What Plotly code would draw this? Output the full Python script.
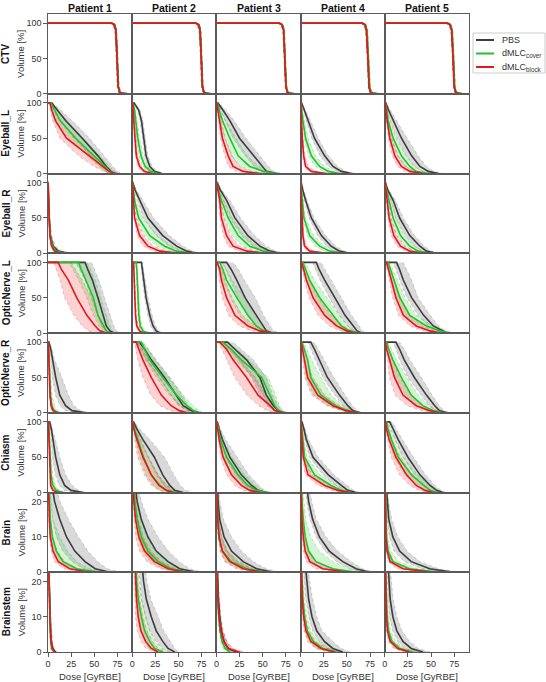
import plotly.graph_objects as go
from plotly.subplots import make_subplots

# ---------------- data (doses [GyRBE] at given volume levels) ----------------
PATIENTS = ["Patient 1", "Patient 2", "Patient 3", "Patient 4", "Patient 5"]
STRUCTURES = ["CTV", "Eyeball_L", "Eyeball_R", "OpticNerve_L", "OpticNerve_R", "Chiasm", "Brain", "Brainstem"]
PLAN_NAMES = ["PBS", "dMLC<sub>cover</sub>", "dMLC<sub>block</sub>"]

VOL_CTV = [100, 98, 90, 50, 10, 2, 0.5, 0]
VOL_STD = [100, 90, 75, 50, 25, 10, 3, 0]
VOL_LOW = [25, 20, 15, 10, 6, 3, 1, 0]

X_TICKS = [0, 25, 50, 75]
Y_TICKS_STD = [0, 50, 100]
Y_TICKS_LOW = [0, 10, 20]

# each patient entry: (mean, lower band edge, upper band edge)
CTV_PBS = [
    ([69, 72, 73.5, 74.8, 76, 77.5, 80, 86], [67, 70.5, 72.5, 74, 75, 76.5, 78.5, 83], [70.5, 73, 74.5, 75.6, 77, 79, 82, 88]),
    ([69, 72, 73.5, 74.8, 76, 77.5, 80, 85], [67, 70.5, 72.5, 74, 75, 76.5, 78.5, 82], [70.5, 73, 74.5, 75.6, 77, 79, 82, 87]),
    ([68, 71, 72.8, 74, 75.2, 76.5, 79, 84], [66, 69.5, 71.8, 73.2, 74.3, 75.5, 77.5, 81], [69.5, 72, 73.8, 74.8, 76.2, 78, 81, 86]),
    ([66.5, 69.5, 71.2, 72.8, 74, 75.5, 78, 83], [64.5, 68, 70.2, 72, 73.2, 74.5, 76.5, 80], [68, 70.5, 72.2, 73.6, 75, 77, 80, 85]),
    ([67.5, 70.5, 72.3, 73.9, 75, 76.5, 79, 84], [65.5, 69, 71.3, 73.1, 74.2, 75.5, 77.5, 81], [69, 71.5, 73.3, 74.7, 76, 78, 81, 86]),
]
CTV_COVER = [
    ([68.5, 71.5, 73.2, 74.6, 75.8, 77.3, 80, 86], [66.5, 70, 72.2, 73.8, 74.8, 76.3, 78.5, 83], [70, 72.5, 74.2, 75.4, 76.8, 78.8, 82, 88]),
    ([68.5, 71.5, 73.2, 74.6, 75.8, 77.3, 80, 85], [66.5, 70, 72.2, 73.8, 74.8, 76.3, 78.5, 82], [70, 72.5, 74.2, 75.4, 76.8, 78.8, 82, 87]),
    ([68, 71, 72.8, 74.1, 75.4, 76.8, 79.5, 85], [66, 69.5, 71.8, 73.3, 74.5, 75.8, 78, 82], [69.5, 72, 73.8, 74.9, 76.4, 78.3, 81.5, 87]),
    ([67, 70, 71.8, 73.3, 74.6, 76.2, 79, 84], [65, 68.5, 70.8, 72.5, 73.8, 75.2, 77.5, 81], [68.5, 71, 72.8, 74.1, 75.6, 77.7, 81, 86]),
    ([68, 71, 72.7, 74.3, 75.5, 77, 79.5, 85], [66, 69.5, 71.7, 73.5, 74.7, 76, 78, 82], [69.5, 72, 73.7, 75.1, 76.5, 78.5, 81.5, 87]),
]
CTV_BLOCK = [
    ([68.5, 71.5, 73.2, 74.6, 75.8, 77.5, 81, 87], [66.5, 70, 72.2, 73.8, 74.8, 76.5, 79, 84], [70, 72.5, 74.2, 75.4, 76.8, 79, 83, 89]),
    ([68.5, 71.5, 73.2, 74.6, 75.8, 77.5, 80.5, 86], [66.5, 70, 72.2, 73.8, 74.8, 76.5, 79, 83], [70, 72.5, 74.2, 75.4, 76.8, 79, 82.5, 88]),
    ([67.8, 70.8, 72.6, 73.9, 75.2, 76.7, 79.5, 85], [65.8, 69.3, 71.6, 73.1, 74.3, 75.7, 78, 82], [69.3, 71.8, 73.6, 74.7, 76.2, 78.2, 81.5, 87]),
    ([66.5, 69.5, 71.2, 72.8, 74, 75.6, 78.5, 84], [64.5, 68, 70.2, 72, 73.2, 74.6, 77, 81], [68, 70.5, 72.2, 73.6, 75, 77.1, 80.5, 86]),
    ([67.5, 70.5, 72.3, 73.8, 75, 76.6, 79.5, 85], [65.5, 69, 71.3, 73, 74.2, 75.6, 78, 82], [69, 71.5, 73.3, 74.6, 76, 78.1, 81.5, 87]),
]

EYEL_PBS = [
    ([4, 10, 19, 37, 54, 63, 68, 72], [3, 7, 13, 28, 46, 57, 63, 67], [5, 14, 26, 45, 61, 70, 75, 79]),
    ([2, 7, 10, 12.5, 15, 19, 24, 32], [1.5, 5.5, 8.5, 11, 13.5, 17, 21, 28], [3, 8.5, 11.5, 14, 17, 21.5, 27, 35]),
    ([1.5, 7, 14.5, 25, 40, 49, 54, 65], [1, 4.5, 9.5, 18, 31, 41, 48, 58], [2.5, 10, 19, 32, 47, 56, 62, 72]),
    ([1, 4, 8, 15, 26, 35, 44, 55], [0.8, 3, 6, 12, 21, 30, 39, 50], [1.5, 5.5, 10.5, 19, 30, 40, 49, 60]),
    ([1, 4, 9, 18, 29, 38, 47, 58], [0.7, 2.5, 6, 13, 23, 32, 41, 52], [1.5, 6, 12.5, 24, 36, 45, 53, 64]),
]
EYEL_COVER = [
    ([3, 7, 13, 30, 50, 61, 67, 72], [2, 5, 9, 22, 42, 55, 62, 67], [4, 10, 20, 38, 56, 66, 72, 77]),
    ([1, 2.5, 4, 6, 9.5, 14, 20, 28], [0.7, 1.8, 3, 4.5, 7.5, 11.5, 17, 25], [1.5, 3.5, 5.5, 8, 12, 17, 23, 31]),
    ([1, 3, 6.5, 14.5, 23.5, 36, 51, 65], [0.7, 2, 4, 9, 16, 26, 40, 55], [1.5, 5, 10, 21, 33, 46, 58, 70]),
    ([0.5, 1.3, 2.5, 5.4, 11.6, 20.6, 30, 42], [0.3, 0.9, 1.8, 4, 8.5, 16, 25, 37], [0.8, 2, 3.8, 8, 16, 26, 36, 48]),
    ([0.7, 2, 3.6, 9, 18, 27, 34, 47], [0.5, 1.4, 2.5, 6.5, 13.5, 22, 29, 42], [1, 2.8, 5.5, 12, 23, 32, 40, 53]),
]
EYEL_BLOCK = [
    ([2, 4, 8, 20, 44, 58, 66, 72], [1, 2.5, 5, 13, 33, 50, 60, 67], [3, 6, 12, 28, 50, 63, 70, 78]),
    ([0.5, 1, 2, 3, 4.5, 8, 13, 22], [0.3, 0.7, 1.4, 2.2, 3.5, 6, 10, 18], [0.8, 1.5, 2.8, 4, 6, 10, 16, 26]),
    ([0.5, 1.5, 3.6, 6.5, 12.7, 18, 29, 47], [0.3, 1, 2.3, 4.5, 9, 13, 22, 40], [0.8, 2.3, 5, 9.5, 17, 25, 37, 55]),
    ([0.3, 0.6, 1, 1.8, 3.3, 5.4, 11.6, 28], [0.2, 0.4, 0.7, 1.3, 2.5, 4, 8.5, 22], [0.5, 0.9, 1.5, 2.6, 4.8, 8, 16, 34]),
    ([0.5, 1.3, 2.5, 5.4, 10.9, 18, 27, 41], [0.3, 0.9, 1.7, 3.8, 8, 14, 22, 36], [0.8, 1.8, 3.5, 7.5, 14.5, 23, 32, 47]),
]

EYER_PBS = [
    ([0.2, 0.4, 0.7, 1.3, 2.6, 5.5, 11, 22], [0.1, 0.3, 0.5, 1, 2, 4, 8, 16], [0.3, 0.6, 1, 2, 4, 8, 15, 26]),
    ([0.7, 3, 8, 17, 33, 48, 59, 70], [0.5, 2, 5.5, 12, 26, 40, 52, 64], [1, 4.5, 11, 23, 40, 55, 65, 75]),
    ([1, 4, 11, 20, 34, 47, 58, 69], [0.7, 2.8, 7.5, 14.5, 27, 40, 51, 63], [1.5, 5.5, 14.5, 26, 41, 54, 64, 75]),
    ([0.7, 2.2, 5.4, 11.6, 22.5, 33, 42, 53], [0.5, 1.6, 4, 9, 18.5, 28, 37, 48], [1, 3, 7, 14.5, 27, 38, 47, 58]),
    ([0.7, 3, 9, 16, 27, 38, 45, 56], [0.5, 2, 6.5, 12, 22, 32, 40, 51], [1, 4, 11.5, 20, 32, 43, 50, 61]),
]
EYER_COVER = [
    ([0.2, 0.4, 0.6, 1.2, 2.4, 4.8, 9, 18], [0.1, 0.3, 0.5, 0.9, 1.8, 3.6, 7, 14], [0.3, 0.5, 0.8, 1.6, 3.2, 6.5, 12, 22]),
    ([0.5, 1.2, 2.5, 7, 19, 35, 48, 64], [0.3, 0.8, 1.7, 4.5, 13, 27, 41, 57], [0.7, 1.8, 4, 11, 27, 43, 55, 70]),
    ([0.7, 2, 5.4, 12.7, 23.5, 36, 51, 65], [0.5, 1.4, 3.6, 8.5, 17, 28, 43, 58], [1, 3, 8, 17, 30, 44, 58, 71]),
    ([0.4, 0.9, 1.8, 3.6, 9.8, 20.6, 31.5, 48], [0.3, 0.6, 1.2, 2.6, 7, 16, 26, 42], [0.6, 1.3, 2.6, 5.2, 14, 26, 37, 53]),
    ([0.5, 1.8, 4.7, 9, 17, 27, 36, 49], [0.3, 1.2, 3.3, 6.5, 13, 22, 31, 44], [0.7, 2.5, 6.5, 12, 21, 32, 41, 54]),
]
EYER_BLOCK = [
    ([0.1, 0.3, 0.5, 1, 2, 4, 7, 15], [0.1, 0.2, 0.4, 0.8, 1.6, 3, 5.5, 12], [0.2, 0.4, 0.7, 1.4, 2.8, 5.5, 10, 19]),
    ([0.3, 0.8, 1.5, 2.5, 8, 17, 30, 51], [0.2, 0.5, 1, 1.8, 5.5, 12, 23, 44], [0.5, 1.1, 2.2, 4, 12, 23, 38, 58]),
    ([0.5, 1.5, 3.6, 5.4, 11, 18, 33, 54], [0.3, 1, 2.4, 3.8, 7.5, 12.5, 25, 46], [0.8, 2.2, 5, 8, 15.5, 25, 41, 61]),
    ([0.2, 0.4, 0.7, 1.5, 2.5, 4.3, 9.8, 28], [0.1, 0.3, 0.5, 1, 1.8, 3.2, 7, 22], [0.3, 0.6, 1, 2.1, 3.6, 6.5, 14, 34]),
    ([0.4, 1.2, 2.5, 4.7, 9.8, 17, 27, 41], [0.3, 0.8, 1.7, 3.3, 7, 13, 22, 36], [0.6, 1.7, 3.5, 6.5, 13, 21, 32, 46]),
]

ONL_PBS = [
    ([40, 43, 48, 54, 60, 63, 67, 71], [30, 34, 40, 47, 54, 58, 62, 66], [47, 50, 55, 61, 67, 71, 74, 78]),
    ([10, 11, 12.3, 15, 19, 22.5, 26, 30], [9, 10, 11, 13.5, 17, 20, 23, 27], [11, 12.5, 14, 17, 21.5, 25, 29, 33]),
    ([11, 16, 22, 31, 43, 51, 54, 60], [6, 10, 15, 23, 34, 43, 48, 54], [18, 24, 30, 42, 51, 58, 62, 69]),
    ([17, 20, 26, 37, 48, 57, 61, 66], [13, 16, 21, 31, 42, 51, 56, 61], [22, 26, 33, 44, 55, 63, 67, 71]),
    ([12.7, 16, 20, 29, 42, 52.5, 61.6, 67], [9, 12, 16, 24, 36, 47, 56, 62], [20, 24, 29, 36, 49, 58, 66, 72]),
]
ONL_COVER = [
    ([33, 36, 41, 49, 54, 60, 63, 67], [23, 27, 33, 42, 49, 55, 59, 63], [42, 46, 51, 57, 63, 67, 70, 74]),
    ([4.3, 5, 5.4, 6.2, 7.2, 8.7, 11.6, 17], [3.6, 4.2, 4.6, 5.3, 6.2, 7.5, 10, 14.5], [5, 5.8, 6.4, 7.3, 8.5, 10.5, 14, 20]),
    ([3.6, 7, 11, 22, 34, 43, 51, 58], [2, 4, 7, 15, 25, 35, 44, 52], [6, 11, 17, 30, 42, 50, 57, 64]),
    ([2.5, 5.4, 9.8, 20.6, 35, 44, 53, 64], [1.5, 3.5, 6.5, 14, 27, 37, 46, 58], [5, 9, 15, 28, 42, 51, 59, 68]),
    ([3.6, 6.2, 9.8, 16.3, 27, 45, 60, 70], [2.4, 4.2, 7, 12, 21, 38, 53, 65], [5.5, 9, 14, 22, 34, 52, 65, 74]),
]
ONL_BLOCK = [
    ([11, 14.5, 22, 31, 42, 51, 56, 63], [6, 9, 13, 18, 28, 37, 44, 50], [25, 30, 37, 47, 54, 59, 63, 68]),
    ([1.5, 1.8, 2.5, 2.9, 3.6, 5, 8, 11.6], [1, 1.3, 1.8, 2.2, 2.8, 4, 6.5, 9.5], [2, 2.4, 3.2, 3.8, 4.6, 6.3, 10, 14]),
    ([0.7, 3.6, 5.4, 11, 20, 34, 47, 62], [0.4, 2, 3, 6.5, 13, 25, 38, 55], [1.2, 6, 9, 17, 28, 42, 54, 68]),
    ([1, 3.3, 6.2, 13.4, 26, 39, 50, 60], [0.6, 2, 4, 9, 19, 31, 43, 55], [1.8, 5, 9, 19, 33, 46, 56, 65]),
    ([1.8, 4, 7.2, 12, 20, 34, 49, 60], [1, 2.6, 5, 8.5, 15, 27, 42, 55], [3, 6, 10, 17, 27, 42, 56, 66]),
]

ONR_PBS = [
    ([1, 3, 4.7, 8.3, 12.7, 19, 26, 41], [0.6, 2, 3, 4.7, 8, 13, 19, 33], [1.5, 4.5, 7, 15, 22, 28, 35, 43]),
    ([8, 13.4, 20.6, 35, 48, 55, 64, 73], [5, 9, 15, 29, 42, 50, 59, 69], [11, 17, 26, 41, 54, 61, 69, 77]),
    ([12, 20, 32.6, 47, 54, 61.6, 67, 72.5], [6, 13, 24, 38, 47, 55, 62, 68], [18, 27, 40, 54, 61, 67, 71, 76]),
    ([11, 15, 20, 29, 42, 51, 56.5, 64], [8, 11, 16, 24, 37, 46, 52, 60], [15, 19, 25, 36, 48, 56, 61, 69]),
    ([12, 16, 21, 32, 45, 54, 59, 67], [9, 12, 16, 25, 39, 48, 54, 63], [16, 21, 27, 39.5, 51, 59, 64, 71]),
]
ONR_COVER = [
    ([0.4, 0.7, 1, 1.8, 2.5, 4, 6.5, 12], [0.3, 0.5, 0.7, 1.2, 1.8, 3, 5, 9], [0.6, 1, 1.5, 3, 4.5, 7, 10, 16]),
    ([9.8, 13.4, 19, 33, 48, 59, 66, 71], [6, 9, 14, 26, 40, 52, 60, 66], [12, 18, 25, 40, 55, 66, 72, 77]),
    ([7, 16, 27, 49, 58, 63, 67, 72.5], [4, 10, 20, 40, 51, 57, 62, 68], [12, 22, 35, 56, 64, 68, 72, 78]),
    ([1.4, 4, 7.6, 11, 22, 38, 51, 62], [0.8, 2.2, 4, 6, 14, 30, 45, 58], [3, 7, 12, 22, 33, 46, 56, 66]),
    ([2, 4.3, 8.7, 17.8, 28.6, 41, 52, 63], [1.2, 2.8, 5.5, 12, 22, 34, 46, 58], [3.5, 7, 13, 24, 36, 48, 57, 67]),
]
ONR_BLOCK = [
    ([0.4, 0.6, 0.9, 1.5, 2.2, 3.3, 5.4, 10], [0.3, 0.4, 0.6, 1, 1.6, 2.5, 4, 8], [0.6, 0.9, 1.3, 2.3, 3.5, 5, 8, 14]),
    ([4.3, 7.2, 11.6, 20.6, 31.5, 42, 51, 60], [2.5, 4, 6, 11.6, 20, 30, 41, 51], [7, 11, 17, 30, 42, 52, 60, 68]),
    ([3.6, 11, 18, 32.6, 45, 58, 63, 72.5], [2, 6, 11, 20, 33, 46, 55, 66], [7, 16, 26, 42, 54, 63, 69, 76]),
    ([0.4, 2, 4, 7.6, 18.5, 35, 49, 62], [0.2, 1, 2.5, 4.5, 12, 28, 44, 58], [1, 3.5, 7, 13, 26, 42, 54, 66]),
    ([0.7, 2, 5, 10.5, 19.6, 34, 48.5, 59], [0.4, 1.2, 3, 5, 11, 24, 40, 54], [1.2, 3.5, 8, 16, 28, 42, 54, 64]),
]

CHI_PBS = [
    ([1.8, 3.6, 5.4, 8.3, 12.7, 18, 25, 38], [1.2, 2.4, 3.6, 4.7, 8, 12, 18, 30], [2.5, 5, 8, 12.7, 19, 26, 33, 41]),
    ([1.5, 5, 11.6, 24, 33, 40.6, 46, 55], [1, 3.5, 8, 17, 26, 34, 40, 48], [2.5, 8, 19, 35, 45, 52, 58, 66]),
    ([1, 2.9, 6.5, 14.5, 27, 38, 45, 54], [0.7, 2, 4.5, 10, 21, 31, 39, 48], [1.5, 4.5, 10, 22, 35, 46, 52, 60]),
    ([1.4, 3.6, 6.2, 13.4, 30, 44, 51, 60], [1, 2.5, 4.5, 9.8, 24, 38, 46, 55], [2, 5, 8.5, 19, 36, 50, 57, 64]),
    ([5.4, 9, 14.5, 25, 38, 49, 56, 63], [3.5, 6.5, 11, 20, 32, 43, 50, 58], [8, 12.5, 19, 31, 44, 54, 61, 67]),
]
CHI_COVER = [
    ([0.5, 1, 1.4, 2.2, 3.3, 5.4, 9, 16], [0.3, 0.7, 1, 1.6, 2.5, 4, 7, 13], [0.8, 1.4, 2, 3.2, 5, 8, 12, 20]),
    ([0.8, 2.5, 6.2, 12.3, 20.6, 30, 37, 48], [0.5, 1.5, 4, 8, 15, 23, 30, 42], [1.2, 4, 9, 18, 28, 38, 45, 55]),
    ([0.8, 2.2, 4.3, 11, 23.5, 34, 43.5, 54], [0.5, 1.5, 3, 7.5, 17, 27, 37, 48], [1.2, 3.5, 7, 17, 31, 42, 50, 58]),
    ([0.6, 1.4, 2.2, 4.3, 15, 33, 44, 55], [0.4, 1, 1.5, 3, 10, 26, 38, 50], [0.9, 2, 3.5, 7, 21, 39, 50, 60]),
    ([1.8, 3.6, 7.2, 14.5, 29, 42, 49, 56], [1.1, 2.4, 5, 10, 22, 36, 44, 52], [3, 5.5, 10.5, 20, 35, 48, 55, 61]),
]
CHI_BLOCK = [
    ([0.4, 0.7, 1, 1.4, 1.8, 2.9, 5.4, 11], [0.3, 0.5, 0.7, 1, 1.3, 2.2, 4, 9], [0.6, 1, 1.4, 2, 2.7, 4, 7.5, 14]),
    ([0.6, 1.8, 5, 11.6, 20.6, 29, 37, 44], [0.4, 1, 2.5, 6, 13, 21, 29, 38], [1, 3, 8, 17, 28, 37, 44, 51]),
    ([0.5, 1.4, 2.9, 7.2, 16.3, 27, 36, 47], [0.3, 0.9, 2, 4.5, 11, 20, 29, 41], [0.8, 2.2, 4.5, 11, 23, 34, 43, 53]),
    ([0.4, 0.8, 1.4, 2.9, 8, 26, 40.6, 53], [0.3, 0.6, 1, 2, 5, 19, 34, 48], [0.7, 1.3, 2.2, 4.5, 12, 32, 46, 58]),
    ([0.8, 1.8, 4.7, 12, 23.5, 34, 43.5, 52.5], [0.5, 1.2, 3, 7, 16, 27, 37, 47], [1.3, 3, 7, 17, 30, 41, 50, 58]),
]

BRAIN_PBS = [
    ([4, 7.2, 12.7, 20, 29, 40, 51, 67], [1.5, 3, 5, 9, 16, 26, 38, 55], [8, 13, 22, 33, 43, 54, 64, 78]),
    ([3, 5.4, 9.8, 17, 26, 38.8, 51.5, 69.6], [1.5, 3, 5, 8, 14, 25, 38, 58], [6, 10, 17, 28, 39, 51, 62, 77]),
    ([1.2, 1.8, 3.6, 8.3, 16.3, 29, 43.5, 61.6], [0.7, 1.1, 2.2, 4.5, 9.5, 19, 33, 52], [2.2, 3.8, 7.5, 16.3, 27, 40, 54, 69]),
    ([6.5, 8.7, 13, 20.3, 31, 45.6, 60, 74.6], [5, 6.5, 10, 16.7, 26, 39, 53, 68], [9, 12, 17, 27.5, 40, 54.7, 67, 80]),
    ([1.5, 2.5, 4.3, 8.7, 16, 28.6, 48.6, 74], [1, 1.5, 2.5, 5, 10, 21, 40, 66], [2.5, 4, 7.5, 14, 24, 38, 58, 81]),
]
BRAIN_COVER = [
    ([1, 1.4, 2.5, 4.7, 9, 16.3, 31, 56], [0.6, 0.9, 1.5, 3, 5.5, 11, 23, 48], [1.5, 2.5, 5, 12.7, 21, 31, 45, 66]),
    ([2, 2.9, 5.4, 9.8, 17, 28, 42, 62], [1.2, 1.8, 3.2, 6, 11, 20, 33, 54], [3.5, 5, 9, 16, 25, 37, 51, 70]),
    ([0.6, 0.8, 1.4, 2.9, 6.5, 16.3, 32.6, 54], [0.4, 0.5, 0.9, 1.8, 4, 10, 24, 46], [1, 1.4, 2.5, 5.5, 12, 25, 41, 62]),
    ([1, 1.4, 2.9, 5, 8.7, 16.7, 34.8, 60], [0.6, 0.9, 1.7, 2.5, 4.5, 9, 22, 50], [2, 3, 5.5, 11, 20, 35, 52, 72]),
    ([0.7, 1, 1.3, 1.8, 3.6, 8.7, 26.8, 59], [0.4, 0.6, 0.8, 1.2, 2.4, 5.5, 19, 50], [1, 1.5, 2, 3, 6.5, 15, 36, 68]),
]
BRAIN_BLOCK = [
    ([0.5, 0.7, 1.4, 2.5, 5.4, 11, 23.5, 45], [0.3, 0.5, 1, 1.7, 3.5, 7, 17, 38], [0.9, 1.3, 2.5, 5, 10, 18, 32, 54]),
    ([1.3, 1.8, 3.6, 7.2, 13.4, 24, 38.8, 58.7], [0.7, 1, 2, 3.6, 8, 16, 30, 50], [2.5, 3.5, 6.5, 12, 20, 32, 47, 67]),
    ([0.6, 0.8, 1.4, 2.9, 6.5, 14.5, 29, 50.7], [0.4, 0.5, 0.9, 1.8, 4, 9, 21, 43], [1, 1.4, 2.5, 5.5, 12, 23, 38, 59]),
    ([0.6, 0.8, 1.4, 2.9, 5, 10, 24, 52.9], [0.4, 0.5, 0.9, 1.8, 3, 6, 16, 44], [1, 1.4, 2.5, 5, 9, 17, 33, 62]),
    ([0.5, 0.7, 0.9, 1.1, 2.5, 5.8, 19.6, 52], [0.3, 0.4, 0.6, 0.8, 1.6, 3.8, 13, 44], [0.8, 1, 1.4, 2, 4, 9.5, 27, 60]),
]

BSTEM_PBS = [
    ([0.8, 1.2, 1.6, 2.2, 2.9, 3.6, 5, 8], [0.5, 0.8, 1.1, 1.5, 2, 2.6, 3.6, 6], [1.1, 1.6, 2.2, 3, 4, 5, 6.8, 10]),
    ([10.5, 12.3, 15.2, 20.6, 26, 33, 38.8, 46], [6.5, 8, 10, 14, 19, 26, 32, 40], [13.5, 16, 20, 28, 34, 41, 46, 50]),
    ([0.9, 1.4, 2.2, 3.6, 5.4, 8.3, 12.7, 21.7], [0.6, 1, 1.5, 2.5, 3.8, 6, 9.5, 17], [1.3, 2, 3.2, 5, 7.5, 11, 16, 26]),
    ([5, 6.5, 8.7, 12.3, 17.4, 25.7, 34.8, 45.6], [3, 3.8, 5.5, 8.7, 13, 20, 28.5, 39], [8, 9.8, 13, 17.4, 23, 34.8, 44, 53]),
    ([3.5, 4.3, 5.8, 8.7, 13, 19.6, 28.6, 41.3], [2.2, 2.8, 3.7, 5, 8.5, 14, 22, 35], [5.5, 6.8, 9, 13, 18.5, 26.8, 36, 48.5]),
]
BSTEM_COVER = [
    ([0.6, 1, 1.4, 1.8, 2.4, 3, 4, 6.5], [0.4, 0.7, 1, 1.3, 1.8, 2.3, 3, 5], [0.8, 1.3, 1.8, 2.4, 3.1, 4, 5.3, 8]),
    ([4, 4.7, 6.5, 9.8, 13.4, 18.8, 24, 33], [2.5, 3, 4, 6, 9, 13.5, 18.5, 27], [6, 7.5, 10, 15, 19, 25, 31, 40]),
    ([0.6, 0.9, 1.4, 2.5, 4, 6.2, 9.4, 14.5], [0.4, 0.6, 1, 1.8, 2.9, 4.5, 7, 11], [0.9, 1.3, 2, 3.5, 5.5, 8.5, 13, 19]),
    ([0.9, 1.4, 2.5, 4.3, 7.2, 13.8, 24, 38.4], [0.6, 0.9, 1.5, 2.7, 4.6, 9, 17, 32], [1.4, 2.2, 4, 6.7, 11, 19.5, 31, 45]),
    ([0.8, 1.1, 1.4, 2.5, 4, 7.6, 16, 30.4], [0.5, 0.7, 0.9, 1.6, 2.6, 5, 11, 24], [1.2, 1.6, 2.2, 3.9, 6.2, 11.5, 22, 37]),
]
BSTEM_BLOCK = [
    ([0.6, 1, 1.4, 1.8, 2.5, 3.2, 4.5, 7], [0.4, 0.7, 1, 1.3, 1.8, 2.4, 3.3, 5.5], [0.8, 1.3, 1.8, 2.4, 3.3, 4.3, 6, 9]),
    ([3, 3.6, 4.7, 6.5, 9.4, 14.5, 20.6, 28], [1.8, 2.2, 2.9, 3.6, 5.5, 9.5, 15, 23], [4.8, 6, 8, 11.6, 16, 22, 28, 35]),
    ([0.6, 0.9, 1.6, 2.9, 4.7, 7.9, 12.7, 25], [0.4, 0.6, 1.1, 2, 3.2, 5.5, 9, 19], [0.9, 1.3, 2.3, 4.2, 6.8, 11.5, 18, 30]),
    ([0.7, 1.1, 1.8, 3.3, 5.8, 11.2, 22, 36.6], [0.4, 0.7, 1.1, 2.1, 3.7, 7.5, 16, 30], [1.1, 1.7, 2.8, 5.2, 8.8, 16, 29, 43]),
    ([0.6, 0.8, 1.1, 1.8, 2.9, 5.8, 14, 26.8], [0.4, 0.5, 0.7, 1.2, 1.9, 3.8, 9.5, 21], [0.9, 1.2, 1.7, 2.8, 4.5, 8.8, 19.5, 33]),
]

# table built from the named arrays
TABLE = [
    ("CTV", VOL_CTV, [CTV_PBS, CTV_COVER, CTV_BLOCK]),
    ("Eyeball_L", VOL_STD, [EYEL_PBS, EYEL_COVER, EYEL_BLOCK]),
    ("Eyeball_R", VOL_STD, [EYER_PBS, EYER_COVER, EYER_BLOCK]),
    ("OpticNerve_L", VOL_STD, [ONL_PBS, ONL_COVER, ONL_BLOCK]),
    ("OpticNerve_R", VOL_STD, [ONR_PBS, ONR_COVER, ONR_BLOCK]),
    ("Chiasm", VOL_STD, [CHI_PBS, CHI_COVER, CHI_BLOCK]),
    ("Brain", VOL_LOW, [BRAIN_PBS, BRAIN_COVER, BRAIN_BLOCK]),
    ("Brainstem", VOL_LOW, [BSTEM_PBS, BSTEM_COVER, BSTEM_BLOCK]),
]

# ---------------- styling ----------------
LINE_COLORS = ["#3d3d3d", "#22c32a", "#e8151b"]
FILL_COLORS = ["rgba(120,120,120,0.28)", "rgba(40,200,45,0.20)", "rgba(235,35,35,0.20)"]
EDGE_COLORS = ["rgba(100,100,100,0.45)", "rgba(30,170,35,0.45)", "rgba(215,25,25,0.45)"]
FONT = "Liberation Sans, Arial, sans-serif"
AX_COLOR = "#5a5a5a"

W, H = 546, 682
ML, MR, MT, MB = 48, 77, 14, 30
PW, PH = W - ML - MR, H - MT - MB

NR, NC = len(STRUCTURES), len(PATIENTS)
fig = make_subplots(rows=NR, cols=NC, horizontal_spacing=0, vertical_spacing=0)

for r, (sname, levels, plans) in enumerate(TABLE, start=1):
    low = levels[0] < 100
    for c in range(1, NC + 1):
        # uncertainty bands
        for p, series in enumerate(plans):
            mean, lo, hi = series[c - 1]
            if low:
                bx = lo + hi[::-1]
                by = levels + levels[::-1]
            else:
                bx = [0] + lo + hi[::-1]
                by = [levels[0]] + levels + levels[::-1]
            fig.add_trace(go.Scatter(x=bx, y=by, mode="lines", fill="toself",
                                     fillcolor=FILL_COLORS[p],
                                     line=dict(color=EDGE_COLORS[p], width=0.6, dash="dot"),
                                     hoverinfo="skip", showlegend=False), row=r, col=c)
        # mean DVH lines
        for p, series in enumerate(plans):
            mean, lo, hi = series[c - 1]
            if low:
                lx, ly = mean, levels
            else:
                lx, ly = [0] + mean, [levels[0]] + levels
            fig.add_trace(go.Scatter(x=lx, y=ly, mode="lines",
                                     line=dict(color=LINE_COLORS[p], width=1.6),
                                     name=PLAN_NAMES[p], showlegend=False), row=r, col=c)

        yrange = [0, 22.6] if low else [0, 113]
        yt = Y_TICKS_LOW if low else Y_TICKS_STD
        fig.update_yaxes(row=r, col=c, range=yrange, tickvals=yt,
                         showticklabels=(c == 1), ticks="outside" if c == 1 else "",
                         ticklen=3.5, tickwidth=1, tickcolor=AX_COLOR,
                         tickfont=dict(size=9, color="#333", family=FONT),
                         showline=True, mirror=True, linecolor=AX_COLOR, linewidth=1.3,
                         showgrid=False, zeroline=False)
        fig.update_xaxes(row=r, col=c, range=[0, 91], tickvals=X_TICKS,
                         showticklabels=(r == NR), ticks="outside" if r == NR else "",
                         ticklen=3.5, tickwidth=1, tickcolor=AX_COLOR,
                         tickfont=dict(size=9, color="#333", family=FONT),
                         showline=True, mirror=True, linecolor=AX_COLOR, linewidth=1.3,
                         showgrid=False, zeroline=False)

annotations = []
for c, pname in enumerate(PATIENTS):
    annotations.append(dict(text="<b>%s</b>" % pname, x=(c + 0.5) / NC, y=1 + 6.5 / PH,
                            xref="paper", yref="paper", showarrow=False,
                            xanchor="center", yanchor="middle",
                            font=dict(size=10.5, color="#111", family=FONT)))
    annotations.append(dict(text="Dose [GyRBE]", x=(c + 0.5) / NC, y=-24 / PH,
                            xref="paper", yref="paper", showarrow=False,
                            xanchor="center", yanchor="middle",
                            font=dict(size=9.5, color="#333", family=FONT)))
for r, sname in enumerate(STRUCTURES):
    yc = 1 - (r + 0.5) / NR
    annotations.append(dict(text="<b>%s</b>" % sname, x=-42 / PW, y=yc, textangle=-90,
                            xref="paper", yref="paper", showarrow=False,
                            xanchor="center", yanchor="middle",
                            font=dict(size=10, color="#111", family=FONT)))
    annotations.append(dict(text="Volume [%]", x=-27 / PW, y=yc, textangle=-90,
                            xref="paper", yref="paper", showarrow=False,
                            xanchor="center", yanchor="middle",
                            font=dict(size=9.5, color="#333", family=FONT)))

# legend (drawn as box, line samples and labels)
def px_x(v):
    return (v - ML) / PW

def px_y(v):
    return (H - MB - v) / PH

shapes = [dict(type="rect", xref="paper", yref="paper",
               x0=px_x(473), x1=px_x(545), y0=px_y(73), y1=px_y(33),
               line=dict(color="#cccccc", width=1), fillcolor="white")]
leg_y = [40, 53.5, 67]
for p, name in enumerate(PLAN_NAMES):
    shapes.append(dict(type="line", xref="paper", yref="paper",
                       x0=px_x(476), x1=px_x(494), y0=px_y(leg_y[p]), y1=px_y(leg_y[p]),
                       line=dict(color=LINE_COLORS[p], width=2)))
    annotations.append(dict(text=name, x=px_x(500), y=px_y(leg_y[p]),
                            xref="paper", yref="paper", showarrow=False,
                            xanchor="left", yanchor="middle",
                            font=dict(size=9, color="#333", family=FONT)))

fig.update_layout(width=W, height=H, margin=dict(l=ML, r=MR, t=MT, b=MB),
                  paper_bgcolor="white", plot_bgcolor="white",
                  showlegend=False, annotations=annotations, shapes=shapes,
                  font=dict(family=FONT))

fig.write_html("out.html")
